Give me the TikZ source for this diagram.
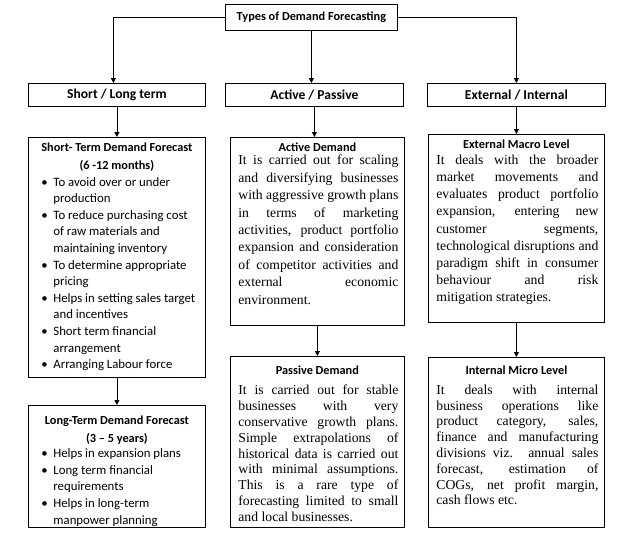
\documentclass[tikz,border=0pt]{standalone}
\usepackage{fontspec}
\setmainfont{Liberation Serif}
\newfontfamily\calib{Carlito}
\usetikzlibrary{arrows.meta}
\newcommand\hfnt{\calib\bfseries\fontsize{12.3}{18}\selectfont}
\newcommand\lblfnt{\calib\bfseries\fontsize{13.6}{16}\selectfont}
\newcommand\bfnt{\calib\fontsize{12.8}{16.6}\selectfont}
\newcommand\cbox[3]{\begin{minipage}[t][#2pt][t]{#1pt}#3\end{minipage}}
\newcommand\head[1]{{\centering\hfnt #1\par}}
\newcommand\para[2]{{\fontsize{13.7}{#1}\selectfont\leftskip=8pt\rightskip=6pt\hyphenpenalty=10000\exhyphenpenalty=10000\tolerance=10000 #2\par}}
\newcommand\bul[1]{{\bfnt\raggedright\hangindent=25pt\hangafter=1\noindent\hspace*{13pt}\makebox[12pt][l]{\textbullet}#1\par}}
\tikzset{
  frame/.style={draw, line width=0.8pt, inner sep=0pt, anchor=north west},
  lbl/.style={frame, font=\lblfnt, align=center},
  conn/.style={line width=0.8pt, -{Triangle[length=5pt,width=5pt]}}
}
\begin{document}
\begin{tikzpicture}[x=1pt,y=-1pt]
\useasboundingbox (0,0) rectangle (628,552);
% top
\node[frame, font=\hfnt, minimum width=172pt, minimum height=26pt] (top) at (225,4) {Types of Demand Forecasting};
% row 2
\node[lbl, minimum width=177pt, minimum height=23pt] (sl) at (28,83) {Short / Long term};
\node[lbl, minimum width=178pt, minimum height=23pt] (ap) at (225,83) {Active / Passive};
\node[lbl, minimum width=178pt, minimum height=23pt] (ei) at (427,83) {External / Internal};
% short term
\node[frame] (st) at (28,137) {\cbox{177}{240}{%
  \vspace*{5pt}%
  \head{Short- Term Demand Forecast\\(6 -12 months)}%
  \vspace{0.5pt}%
  \bul{To avoid over or under\newline production}%
  \bul{To reduce purchasing cost\newline of raw materials and\newline maintaining inventory}%
  \bul{To determine appropriate\newline pricing}%
  \bul{Helps in setting sales target\newline and incentives}%
  \bul{Short term financial\newline arrangement}%
  \bul{Arranging Labour force}}};
% long term
\node[frame] (lt) at (28,405) {\cbox{177}{122}{%
  \vspace*{10pt}%
  \head{Long-Term Demand Forecast\\(3 – 5 years)}%
  \vspace{-1pt}%
  \bul{Helps in expansion plans}%
  \bul{Long term financial\newline requirements}%
  \bul{Helps in long-term\newline manpower planning}}};
% active
\node[frame] (ad) at (230,137) {\cbox{174}{188}{%
  \vspace*{5pt}%
  \head{Active Demand}%
  \vspace{-3.5pt}%
  \para{17.4}{It is carried out for scaling\linebreak and diversifying businesses\linebreak with aggressive growth plans\linebreak in terms of marketing\linebreak activities, product portfolio\linebreak expansion and consideration\linebreak of competitor activities and\linebreak external economic\linebreak environment.}}};
% passive
\node[frame] (pd) at (230,356) {\cbox{174}{171}{%
  \vspace*{9pt}%
  \head{Passive Demand}%
  \vspace{5pt}%
  \para{15.8}{It is carried out for stable\linebreak businesses with very\linebreak conservative growth plans.\linebreak Simple extrapolations of\linebreak historical data is carried out\linebreak with minimal assumptions.\linebreak This is a rare type of\linebreak forecasting limited to small\linebreak and local businesses.}}};
% external
\node[frame] (em) at (428,134) {\cbox{176}{188}{%
  \vspace*{5.5pt}%
  \head{External Macro Level}%
  \vspace{-1pt}%
  \para{17.1}{It deals with the broader\linebreak market movements and\linebreak evaluates product portfolio\linebreak expansion, entering new\linebreak customer segments,\linebreak technological disruptions and\linebreak paradigm shift in consumer\linebreak behaviour and risk\linebreak mitigation strategies.}}};
% internal
\node[frame] (im) at (428,357) {\cbox{176}{170}{%
  \vspace*{8pt}%
  \head{Internal Micro Level}%
  \vspace{4.5pt}%
  \para{15.8}{It deals with internal\linebreak business operations like\linebreak product category, sales,\linebreak finance and manufacturing\linebreak divisions viz. annual sales\linebreak forecast, estimation of\linebreak COGs, net profit margin,\linebreak cash flows etc.}}};
% connectors
\coordinate (slin) at ([xshift=-3.5pt]sl.north);
\draw[conn] (top.west) -| (slin);
\draw[conn] (top.south) -- (top.south |- ap.north);
\draw[conn] (top.east) -| (ei.north);
\draw[conn] (sl.south) -- (st.north);
\draw[conn] (ap.south) -- (ap.south |- ad.north);
\draw[conn] (ei.south) -- (ei.south |- em.north);
\draw[conn] (st.south) -- (lt.north);
\draw[conn] (ad.south) -- (pd.north);
\draw[conn] (em.south) -- (im.north);
\end{tikzpicture}
\end{document}
